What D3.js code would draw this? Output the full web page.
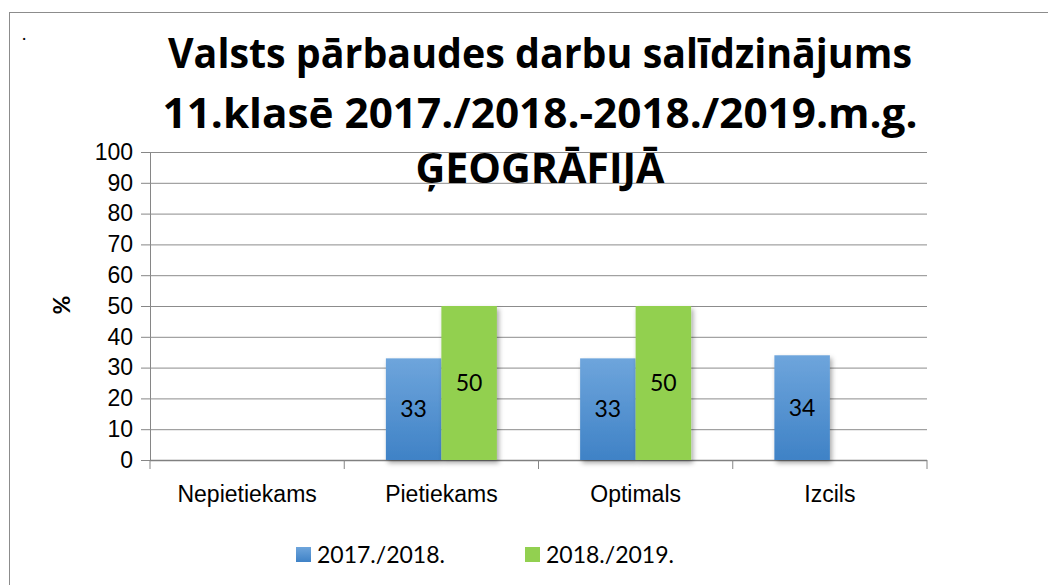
<!DOCTYPE html>
<html>
<head>
<meta charset="utf-8">
<script src="https://cdn.jsdelivr.net/npm/d3@7"></script>
<style>
  body { margin: 0; background: #fff; }
  svg { display: block; font-family: Lato, "Open Sans", sans-serif; }
</style>
</head>
<body>
<div class="chart-container"></div>
<script>
//! CONSTS
const WIDTH = 1048
const HEIGHT = 585
const FS = 23

const titleLines = ['Valsts pārbaudes darbu salīdzinājums', '11.klasē 2017./2018.-2018./2019.m.g.', 'ĢEOGRĀFIJĀ']
const categories = ['Nepietiekams', 'Pietiekams', 'Optimals', 'Izcils']
const seriesNames = ['2017./2018.', '2018./2019.']
const values2017 = [null, 33, 33, 34]
const values2018 = [null, 50, 50, null]
const yTicks = [0, 10, 20, 30, 40, 50, 60, 70, 80, 90, 100]

const colors = ['#4a8bd0', '#92d050']

//! SVG
const svg = d3.select('.chart-container')
  .append('svg')
  .attr('width', WIDTH)
  .attr('height', HEIGHT)

const defs = svg.append('defs')
const grad = defs.append('linearGradient')
  .attr('id', 'blueGrad')
  .attr('x1', 0).attr('y1', 0).attr('x2', 0).attr('y2', 1)
grad.append('stop').attr('offset', '0%').attr('stop-color', '#6ea5dc')
grad.append('stop').attr('offset', '100%').attr('stop-color', '#3f82c6')

const shadow = defs.append('filter').attr('id', 'shadow')
  .attr('x', '-20%').attr('y', '-10%').attr('width', '150%').attr('height', '130%')
shadow.append('feDropShadow')
  .attr('dx', 2).attr('dy', 3).attr('stdDeviation', 2.5)
  .attr('flood-color', '#000').attr('flood-opacity', 0.35)

// outer frame (runs off the right and bottom edge)
svg.append('rect')
  .attr('x', 9.5).attr('y', 12.5)
  .attr('width', WIDTH + 20).attr('height', HEIGHT + 20)
  .attr('fill', 'none').attr('stroke', '#8c8c8c')

svg.append('text')
  .attr('x', 22).attr('y', 40)
  .attr('font-size', 18)
  .text('.')

//! SCALES
const x = d3.scaleBand().domain(categories).range([150, 927])
const groupW = 111
const xs = d3.scaleBand().domain(seriesNames)
  .range([x.bandwidth() / 2 - groupW / 2, x.bandwidth() / 2 + groupW / 2])
const y = d3.scaleLinear().domain([0, 100]).range([460, 152])

// gridlines + y axis
const yAxis = d3.axisLeft(y).tickValues(yTicks).tickSize(9).tickPadding(8)
const yg = svg.append('g').attr('transform', 'translate(150,0)').call(yAxis)
yg.select('.domain').attr('stroke', '#868686')
yg.selectAll('.tick line').attr('stroke', '#868686')
yg.selectAll('.tick text').attr('font-size', FS).attr('fill', '#000')

svg.append('g')
  .selectAll('line')
  .data(yTicks)
  .join('line')
  .attr('x1', 150).attr('x2', 927)
  .attr('y1', d => y(d) + 0.5).attr('y2', d => y(d) + 0.5)
  .attr('stroke', d => d === 0 ? '#808080' : '#8c8c8c')
  .attr('stroke-width', d => d === 0 ? 1.5 : 1)

// x axis
const xAxis = d3.axisBottom(x).tickSize(0).tickPadding(26)
const xg = svg.append('g').attr('transform', 'translate(0,460)').call(xAxis)
xg.select('.domain').remove()
xg.selectAll('.tick text').attr('font-size', FS).attr('fill', '#000')
svg.append('g')
  .selectAll('line')
  .data(d3.range(categories.length + 1))
  .join('line')
  .attr('x1', i => 150 + i * x.bandwidth())
  .attr('x2', i => 150 + i * x.bandwidth())
  .attr('y1', 460).attr('y2', 469)
  .attr('stroke', '#868686')

//! BARS
const rows = []
categories.forEach((c, i) => {
  rows.push({ cat: c, s: seriesNames[0], v: values2017[i] })
  rows.push({ cat: c, s: seriesNames[1], v: values2018[i] })
})
const bars = rows.filter(d => d.v != null)

svg.append('g')
  .selectAll('rect')
  .data(bars)
  .join('rect')
  .attr('x', d => x(d.cat) + xs(d.s))
  .attr('y', d => y(d.v))
  .attr('width', xs.bandwidth())
  .attr('height', d => y(0) - y(d.v))
  .attr('fill', d => d.s === seriesNames[0] ? 'url(#blueGrad)' : colors[1])
  .attr('filter', 'url(#shadow)')

svg.append('g')
  .selectAll('text')
  .data(bars)
  .join('text')
  .attr('x', d => x(d.cat) + xs(d.s) + xs.bandwidth() / 2)
  .attr('y', d => (y(d.v) + y(0)) / 2 + 8)
  .attr('text-anchor', 'middle')
  .attr('font-size', FS)
  .text(d => d.v)

//! TITLE
const titleY = [68, 128, 183]
const titleLen = [744, 755, 249]
svg.append('g')
  .selectAll('text')
  .data(titleLines)
  .join('text')
  .attr('x', 540)
  .attr('y', (d, i) => titleY[i])
  .attr('text-anchor', 'middle')
  .attr('font-family', '"Open Sans", Lato, sans-serif')
  .attr('font-size', 42)
  .attr('font-weight', 'bold')
  .attr('textLength', (d, i) => titleLen[i])
  .attr('lengthAdjust', 'spacingAndGlyphs')
  .text(d => d)

// y label
svg.append('text')
  .attr('transform', 'translate(70,305) rotate(-90)')
  .attr('text-anchor', 'middle')
  .attr('font-size', FS)
  .attr('font-weight', 'bold')
  .text('%')

//! LEGEND
const legendX = [296, 525]
const legend = svg.append('g')
  .selectAll('g')
  .data(seriesNames)
  .join('g')
  .attr('transform', (d, i) => `translate(${legendX[i]},0)`)
legend.append('rect')
  .attr('x', 0).attr('y', 547)
  .attr('width', 15).attr('height', 15)
  .attr('fill', (d, i) => i === 0 ? 'url(#blueGrad)' : colors[1])
legend.append('text')
  .attr('x', 21).attr('y', 563)
  .attr('font-size', FS)
  .text(d => d)
</script>
</body>
</html>
